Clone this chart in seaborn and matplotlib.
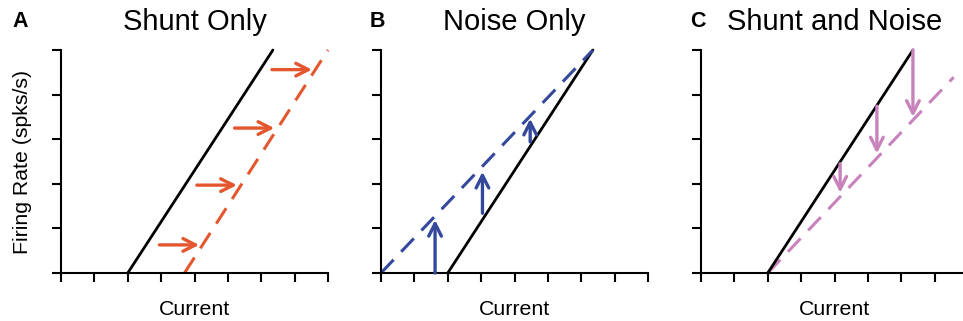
import matplotlib
matplotlib.use("Agg")
import matplotlib.pyplot as plt
import seaborn as sns

sns.set_theme(style="ticks")
plt.rcParams['font.family'] = ['Liberation Sans', 'DejaVu Sans']
plt.rcParams['text.color'] = 'black'
plt.rcParams['axes.labelcolor'] = 'black'

# ---- data ----
panel_letters = ["A", "B", "C"]
panel_titles = ["Shunt Only", "Noise Only", "Shunt and Noise"]

base_current = [2.0, 6.35]
base_rate = [0.0, 5.0]

shunt_current = [3.7, 8.0]
shunt_rate = [0.0, 5.0]

noise_current = [0.0, 6.35]
noise_rate = [0.0, 5.0]

both_current = [2.0, 7.57]
both_rate = [0.0, 4.39]

# arrows: panel A (horizontal)
a_arrow_y = [0.63, 1.97, 3.25, 4.56]
a_arrow_x0 = [2.95, 4.07, 5.20, 6.32]
a_arrow_x1 = [4.14, 5.27, 6.39, 7.52]
# panel B (vertical, upward)
b_arrow_x = [1.62, 3.04, 4.47]
b_arrow_y0 = [0.0, 1.34, 2.94]
b_arrow_y1 = [1.19, 2.27, 3.46]
# panel C (vertical, downward)
c_arrow_x = [4.17, 5.27, 6.35]
c_arrow_y0 = [2.45, 3.74, 5.00]
c_arrow_y1 = [1.80, 2.68, 3.50]

x_ticks = [0, 1, 2, 3, 4, 5, 6, 7, 8]
y_ticks = [0, 1, 2, 3, 4, 5]

col_shunt = "#E4572E"
col_noise = "#34489C"
col_both = "#C883BD"

W, H = 963, 321
fig = plt.figure(figsize=(W / 100, H / 100), dpi=100)

ax_w = 267 / W
ax_h = 223 / H
ax_b = 48 / H
lefts = [61 / W, 381 / W, 701 / W]

dash = (0, (6, 3.6))

def style_axis(ax):
    ax.set_xlim(0, 8)
    ax.set_ylim(0, 5)
    ax.set_xticks(x_ticks)
    ax.set_yticks(y_ticks)
    ax.set_xticklabels([])
    ax.set_yticklabels([])
    for s in ["top", "right"]:
        ax.spines[s].set_visible(False)
    for s in ["left", "bottom"]:
        ax.spines[s].set_linewidth(1.5)
        ax.spines[s].set_color("black")
    ax.tick_params(axis="both", length=6.5, width=1.5, color="black", direction="out")
    ax.set_facecolor("white")
    ax.set_xlabel("Current", fontsize=15.3, color="black")
    ax.xaxis.set_label_coords(0.5, -0.12)

def arrow(ax, x0, y0, x1, y1, color):
    ax.annotate("", xy=(x1, y1), xytext=(x0, y0),
                arrowprops=dict(arrowstyle="->,head_length=0.75,head_width=0.38",
                                color=color, lw=2.4, shrinkA=0, shrinkB=0),
                annotation_clip=False)

axes = []
for i in range(3):
    ax = fig.add_axes([lefts[i], ax_b, ax_w, ax_h])
    axes.append(ax)

# Panel A
ax = axes[0]
sns.lineplot(x=base_current, y=base_rate, ax=ax, color="black", lw=2.0, clip_on=False)
sns.lineplot(x=shunt_current, y=shunt_rate, ax=ax, color=col_shunt, lw=2.2,
             linestyle=dash, clip_on=False)
for y, x0, x1 in zip(a_arrow_y, a_arrow_x0, a_arrow_x1):
    arrow(ax, x0, y, x1, y, col_shunt)

# Panel B
ax = axes[1]
sns.lineplot(x=base_current, y=base_rate, ax=ax, color="black", lw=2.0, clip_on=False)
sns.lineplot(x=noise_current, y=noise_rate, ax=ax, color=col_noise, lw=2.2,
             linestyle=dash, clip_on=False)
for x, y0, y1 in zip(b_arrow_x, b_arrow_y0, b_arrow_y1):
    arrow(ax, x, y0, x, y1, col_noise)

# Panel C
ax = axes[2]
sns.lineplot(x=both_current, y=both_rate, ax=ax, color=col_both, lw=2.2,
             linestyle=dash, clip_on=False)
sns.lineplot(x=base_current, y=base_rate, ax=ax, color="black", lw=2.0, clip_on=False)
for x, y0, y1 in zip(c_arrow_x, c_arrow_y0, c_arrow_y1):
    arrow(ax, x, y0, x, y1, col_both)

for i, ax in enumerate(axes):
    style_axis(ax)
    ax.set_title(panel_titles[i], fontsize=21, pad=14.5, color="black")

axes[0].set_ylabel("Firing Rate (spks/s)", fontsize=15.3, color="black")
axes[0].yaxis.set_label_coords(-0.11, 0.5)

letter_x = [12, 370, 690]
for lx, letter in zip(letter_x, panel_letters):
    fig.text(lx / W, 1 - 27 / H, letter, fontsize=15.5, fontweight="bold",
             ha="left", va="baseline", color="black")

fig.savefig("out.png", dpi=100, facecolor="white")
